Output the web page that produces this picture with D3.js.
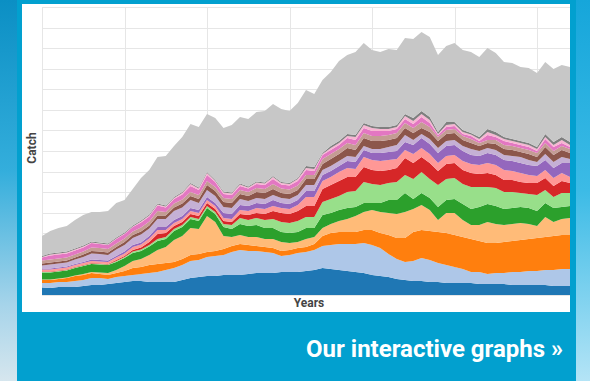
<!DOCTYPE html>
<html>
<head>
<meta charset="utf-8">
<script src="https://cdn.jsdelivr.net/npm/d3@7/dist/d3.min.js"></script>
<style>
  html, body { margin: 0; padding: 0; width: 590px; height: 381px; overflow: hidden; background: #0a9bd0; }
  svg { display: block; }
</style>
</head>
<body>
<svg id="chart" width="590" height="381"></svg>
<script>
// ---------- DATA (catch, arbitrary units; no tick labels on the original) ----------
const startYear = 1950, endYear = 2014;
const years = d3.range(startYear, endYear + 1);

const seriesNames = ["s01","s02","s03","s04","s05","s06","s07","s08","s09","s10","s11","s12","s13","s14","s15","s16"];
const seriesColors = ["#1f77b4","#aec7e8","#ff7f0e","#ffbb78","#2ca02c","#98df8a","#d62728","#ff9896",
                      "#9467bd","#c5b0d5","#8c564b","#c49c94","#e377c2","#f7b6d2","#7f7f7f","#c7c7c7"];

const s01 = [7.5,7,8,8,8,9,10,10,11,12,13,14,14,13,13,13,13,15,17,18,19,19,20,20,20,21,22,22,22,23,23,23,24,25,27,26,25,24,23,22,20,19,18,16,15,14,14,13,13,12,12,12,12,11,11,11,11,10,10,10,10,10,9,9,9];
const s02 = [4.5,5,5,5,6,6,7,7,5,6,6,6,7,9,10,12,14,15,17,17,19,20,20,23,25,23,22,21,20,16,17,19,19,20,22,24,26,27,28,30,30,28,23,20,18,20,23,22,19,18,16,14,11,12,10,11,11,13,13,14,14,15,16,17,17];
const s03 = [3,3,3,4,5,5,5,4,4,4,5,7,7,8,8,7,6,6,6,6,5,5,6,6,6,6,5,5,5,5,5,5,5,6,10,12,12,12,12,13,15,15,19,21,24,29,28,29,31,32,32,32,33,31,31,30,31,31,32,32,33,33,34,34,34];
const s04 = [0.5,0.5,0.5,0.5,0.5,1,1,1.5,2,3,5,7,8,10,14,16,22,23,27,25,36,29,13,9,9,8,9,8,9,9,7,6,8,7,8,9,11,13,16,18,20,21,22,24,26,23,25,21,12,20,22,17,14,16,21,19,17,17,17,15,12,20,14,16,17];
const s05 = [7,7,7,7,7.5,8,8,8,8,8,8,8,8,8.5,9,8,9,9,9,8,8,8,9,8,11,11,12,11,11,10,10,10,11,9,13,11,11,11,9,9,7,9,13,14,19,10,12,12,13,13,14,16,16,18,18,18,16,16,16,16,15,14,14,12,12];
const s06 = [0.5,0.5,0.5,0.5,0.5,0.5,0.5,0.5,0.5,1,1,1.5,1.5,1.5,2,2,2,2,2,2,2,2,3,4,6,6,7,8,9,10,10,11,11,11,13,14,14,16,16,21,19,18,17,18,18,20,21,19,22,21,21,20,22,20,17,18,17,16,14,14,16,13,11,14,13];
const s07 = [0.5,0.5,0.5,0.5,0.5,0.5,0.5,0.5,0.5,1,1,1.5,2,3,5,4,3,3,3,3,3,3,3,3,4,5,5,6,8,9,9,10,11,11,13,14,15,15,14,15,14,14,13,14,17,16,15,16,14,15,15,14,14,13,14,13,12,12,11,11,12,12,11,12,10];
const s08 = [2,2,2,2,2,2,2,2,2,2.5,2.5,3,3,3.5,4,3,3,3,3,3,3,3,3,3,4,4,5,5,5,5,5,6,9,9,8,8,9,9,8,10,10,10,10,9,8,9,9,9,8,8,8,9,9,9,10,10,10,9,9,8,7,8,8,8,6];
const s09 = [1,1,1,1,1,1,1.5,1.5,1.5,1.5,2,2,2,2.5,3,3,3,3,3,3,3,3,5,5,5,5,5,5,6,5,5,5,6,6,6,6,6,7,7,7,7,8,8,8,8,9,10,10,10,10,10,10,9,9,10,10,10,10,10,10,10,10,10,10,14];
const s10 = [3,4,4,4,4.5,5,6,6,5.5,6.5,6.5,7,8,7.5,8,8,9,8.5,8,7,7,7,6,6,6,5,5,5,5,5,5,5,6,6,5,5,5,5,5,4,4,4,5,6,7,5,4,5,5,5,5,5,6,5,5,5,5,5,6,5,4,6,6,6,4];
const s11 = [2,2,2,2,2,2.5,2.5,2.5,2.5,2.5,3,3,3,3,3.5,3.5,3.5,4,4,4,5,5,5,5,5,5,6,6,6,5,5,5,6,6,6,7,7,8,7,8,8,8,7,7,7,7,6,7,7,7,7,6,6,5,5,6,6,6,5,6,5,7,7,7,6];
const s12 = [3,3,3,3,3,3,3.5,3.5,3.5,3.5,3.5,3.5,4,4,4.5,3.5,4,4,4,4,4,4,4,4,4,4,4,4,5,4.5,4.5,4.5,4,4,5,5,5,5,5,5,5,5,5,5,5,5,6,5,4,4,4,4,4,3,3,4,4,4,4,4,4,4,4,4,4];
const s13 = [3,4,4,4,4,4,4.5,4,4,4.5,4.5,4.5,5,5,5.5,4.5,4.5,5,6,5,6,5,4,4,4,3.5,4,4,5,4,4,4.5,5,4,4,4,4,5,5,5,5,5,4,4,4,4,5,4,2,3,3,2,3,2,5,3,4,3,3,3,2,4,4,3,2];
const s14 = [0.5,1,1,1,1,1,0.5,0.5,0.5,0.5,0.5,0.5,1,1,1,1,1,1.5,2,1.5,2,1,1.5,1.5,1.5,1,1.5,1.5,2,1.5,1.5,2,2,2,1,2,2,2,3,3,3,2,2,2,3,3,3,3,1,2,2,2,1.5,2,3,2,2,2,2,2,2,2,2,3,2];
const s15 = [1,1,1,1,1,1,1,1,1,1,1,1,1,1,1,1,1,1,1,1,1,1,1,1,1,1,1,1,1,1,1,1,2,2,1,2,2,2,2,2,2,2,2,2,2,3,3,3,2,3,2,2,1.5,2,3,3,2,2,2,2,2,3,3,3,3];
const s16 = [20,22.5,24.5,25.5,28.5,30.5,29.5,30.5,32.5,34.5,32.5,36.5,42.5,44.5,46.5,49.5,51,55,59,60.5,58,62,63.5,67.5,66.5,67.5,69.5,71.5,72,73,72,75,76,73,73,74,80,79,83,80,76,75,78,75,76,79,79,80,77,76,79,80,81,80,81,79,75,76,74,75,74,72,73,72,75];

const seriesValues = [s01,s02,s03,s04,s05,s06,s07,s08,s09,s10,s11,s12,s13,s14,s15,s16];
const yMax = 288;          // top gridline
const gridCount = 14;      // number of horizontal grid intervals
const gridYears = [1950, 1960, 1970, 1980, 1990, 2000, 2010];

// ---------- LAYOUT ----------
const svg = d3.select("#chart");
const W = 590, H = 381;
const panel = { x: 17, w: 559 };
const card = { x: 22, y: 4, w: 548, h: 308 };
const plot = { left: 42, right: 570, top: 7, bottom: 295 };

const defs = svg.append("defs");
const gl = defs.append("linearGradient").attr("id", "skyL").attr("x1", 0).attr("y1", 0).attr("x2", 0).attr("y2", 1);
gl.append("stop").attr("offset", "0%").attr("stop-color", "#0b8fc4");
gl.append("stop").attr("offset", "45%").attr("stop-color", "#34aedc");
gl.append("stop").attr("offset", "80%").attr("stop-color", "#a6d4ea");
gl.append("stop").attr("offset", "100%").attr("stop-color", "#d6e6ee");
const gr = defs.append("linearGradient").attr("id", "skyR").attr("x1", 0).attr("y1", 0).attr("x2", 0).attr("y2", 1);
gr.append("stop").attr("offset", "0%").attr("stop-color", "#16a6da");
gr.append("stop").attr("offset", "50%").attr("stop-color", "#3cbbe6");
gr.append("stop").attr("offset", "100%").attr("stop-color", "#b4e4f6");

svg.append("rect").attr("x", 0).attr("y", 0).attr("width", panel.x).attr("height", H).attr("fill", "url(#skyL)");
svg.append("rect").attr("x", panel.x + panel.w).attr("y", 0).attr("width", W - panel.x - panel.w).attr("height", H).attr("fill", "url(#skyR)");
svg.append("rect").attr("x", panel.x).attr("y", 0).attr("width", panel.w).attr("height", H).attr("fill", "#02a0cf");
svg.append("rect").attr("x", card.x).attr("y", card.y).attr("width", card.w).attr("height", card.h).attr("fill", "#ffffff");

// ---------- SCALES ----------
const x = d3.scaleLinear().domain([startYear, endYear]).range([plot.left, plot.right]);
const y = d3.scaleLinear().domain([0, yMax]).range([plot.bottom, plot.top]);

// grid
const gridVals = d3.range(gridCount + 1).map(k => k * yMax / gridCount);
svg.append("g").selectAll("line").data(gridVals).join("line")
  .attr("x1", plot.left).attr("x2", plot.right)
  .attr("y1", d => Math.round(y(d)) + 0.5).attr("y2", d => Math.round(y(d)) + 0.5)
  .attr("stroke", "#e6e6e6").attr("stroke-width", 1);
svg.append("g").selectAll("line").data(gridYears).join("line")
  .attr("x1", d => Math.round(x(d)) + 0.5).attr("x2", d => Math.round(x(d)) + 0.5)
  .attr("y1", plot.top).attr("y2", plot.bottom)
  .attr("stroke", "#e6e6e6").attr("stroke-width", 1);

// ---------- STACK ----------
const rows = years.map((yr, i) => {
  const r = { year: yr };
  seriesNames.forEach((n, k) => { r[n] = seriesValues[k][i]; });
  return r;
});
const stack = d3.stack().keys(seriesNames);
const layers = stack(rows);
const area = d3.area()
  .x(d => x(d.data.year))
  .y0(d => y(d[0]))
  .y1(d => y(d[1]));

svg.append("g").selectAll("path").data(layers).join("path")
  .attr("d", area)
  .attr("fill", (d, i) => seriesColors[i]);

// ---------- LABELS ----------
svg.append("text")
  .attr("transform", `translate(36, ${(plot.top + plot.bottom) / 2 - 3}) rotate(-90)`)
  .attr("text-anchor", "middle")
  .attr("font-family", "Roboto, Arial, sans-serif")
  .attr("font-weight", "bold")
  .attr("font-size", 12)
  .attr("fill", "#444")
  .text("Catch");

svg.append("text")
  .attr("x", 309).attr("y", 307)
  .attr("text-anchor", "middle")
  .attr("font-family", "Roboto, Arial, sans-serif")
  .attr("font-weight", "bold")
  .attr("font-size", 12)
  .attr("fill", "#444")
  .text("Years");

svg.append("text")
  .attr("x", 563).attr("y", 357)
  .attr("text-anchor", "end")
  .attr("font-family", "Roboto, Arial, sans-serif")
  .attr("font-weight", "bold")
  .attr("font-size", 24)
  .attr("fill", "#ffffff")
  .text("Our interactive graphs »");
</script>
</body>
</html>
